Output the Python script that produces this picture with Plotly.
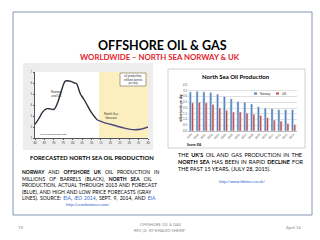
import plotly.graph_objects as go

# ---------------- data ----------------
hist_years = [1980, 1982, 1984, 1986, 1988, 1990, 1992, 1994, 1996, 1997, 1999, 2001, 2002, 2004, 2006, 2008, 2010, 2012, 2013]
hist_prod = [2.25, 2.75, 3.35, 3.65, 3.65, 3.6, 4.2, 5.3, 6.15, 6.2, 6.15, 6.0, 5.95, 5.05, 4.5, 3.9, 3.3, 2.85, 2.65]
fc_years = [2013, 2016, 2020, 2024, 2028, 2032, 2036, 2040]
fc_prod = [2.65, 2.45, 2.25, 2.05, 1.88, 1.76, 1.8, 2.0]

bar_years = [str(y) for y in range(1999, 2015)]
norway = [3.4, 3.45, 3.4, 3.35, 3.2, 3.0, 2.8, 2.55, 2.5, 2.35, 2.1, 2.0, 1.95, 1.85, 1.85, 1.85]
uk = [2.45, 2.5, 2.45, 2.3, 2.0, 1.8, 1.65, 1.65, 1.55, 1.45, 1.35, 1.15, 0.95, 0.85, 0.65, 0.55]
series_names = ["Norway", "UK"]
series_colors = ["#4f81bd", "#c0504d"]

left_xticks = list(range(1980, 2041, 5))
left_xlabels = ["%02d" % (y % 100) for y in left_xticks]

W, H = 320, 240
def px(x):
    return x / W
def py(y):
    return 1 - y / H

FONT = "Lato"
fig = go.Figure()

# left chart
fig.add_trace(go.Scatter(x=hist_years, y=hist_prod, mode="lines", line=dict(color="#2b2b3a", width=1.4),
                         xaxis="x", yaxis="y", showlegend=False, line_shape="spline"))
fig.add_trace(go.Scatter(x=fc_years, y=fc_prod, mode="lines", line=dict(color="#4a4a7a", width=1.4),
                         xaxis="x", yaxis="y", showlegend=False, line_shape="spline"))

# right chart
fig.add_trace(go.Bar(x=bar_years, y=norway, name=series_names[0], marker_color=series_colors[0],
                     xaxis="x2", yaxis="y2", showlegend=False))
fig.add_trace(go.Bar(x=bar_years, y=uk, name=series_names[1], marker_color=series_colors[1],
                     xaxis="x2", yaxis="y2", showlegend=False))

shapes = [
    # slide border
    dict(type="rect", xref="paper", yref="paper", x0=px(13), x1=px(312), y0=py(215), y1=py(12),
         line=dict(color="#8497b0", width=1), fillcolor="rgba(0,0,0,0)", layer="below"),
    # left image gray background
    dict(type="rect", xref="paper", yref="paper", x0=px(23), x1=px(153), y0=py(150), y1=py(63),
         line=dict(width=0), fillcolor="#ededed", layer="below"),
    dict(type="rect", xref="paper", yref="paper", x0=px(35), x1=px(148), y0=py(138), y1=py(72),
         line=dict(width=0), fillcolor="white", layer="below"),
    # forecast shading
    dict(type="rect", xref="x", yref="y domain", x0=2014, x1=2040, y0=0, y1=1,
         line=dict(width=0), fillcolor="#fbefc0", layer="below"),
    # right chart frame
    dict(type="rect", xref="paper", yref="paper", x0=px(168), x1=px(305), y0=py(148), y1=py(69),
         line=dict(color="#d0d0d0", width=1), fillcolor="white", layer="below"),
    # info box on left chart
    dict(type="rect", xref="paper", yref="paper", x0=px(120), x1=px(146), y0=py(86), y1=py(73),
         line=dict(color="#666", width=0.6), fillcolor="white"),
]

ann = []
def A(x, y, text, size, color="black", xanchor="center", bold=False, **kw):
    if bold:
        text = "<b>" + text + "</b>"
    ann.append(dict(xref="paper", yref="paper", x=px(x), y=py(y), text=text, showarrow=False,
                    xanchor=xanchor, yanchor="middle", font=dict(size=size, color=color, family=FONT), **kw))

def J(text, ws):
    return "<span style='word-spacing:%.2fpx'>%s</span>" % (ws, text)

# manual legend for bar chart
leg_x = [254, 276]
for nm, col, lx in zip(series_names, series_colors, leg_x):
    shapes.append(dict(type="rect", xref="paper", yref="paper", x0=px(lx), x1=px(lx + 3),
                       y0=py(94.5), y1=py(92.5), line=dict(width=0), fillcolor=col))
    A(lx + 4, 93.5, nm, 3.0, color="#333", xanchor="left")

A(162, 45, "OFFSHORE OIL & GAS", 12.5, bold=True)
A(160, 57, "WORLDWIDE – NORTH SEA NORWAY & UK", 7.8, color="#e3242b", bold=True)

# left chart inner labels
A(57, 94, "Norway<br>and UK", 3.2, color="#333")
A(133, 79.5, "oil production,<br>millions barrels<br>per day", 2.8, color="#333")
A(111, 116, "North Sea<br>forecast", 3.2, color="#333")
A(38, 134, "www.econbrowser.com", 2.6, color="#333", xanchor="left")

A(92, 157, "FORECASTED NORTH SEA OIL PRODUCTION", 5.9, bold=True)
LINK = "<span style='color:#2f5fd0'>%s</span>"
left_lines = [
    ("<b>NORWAY</b> AND <b>OFFSHORE UK</b> OIL PRODUCTION IN", 2.8),
    ("MILLIONS OF BARRELS (BLACK), <b>NORTH SEA</b> OIL", 2.8),
    ("PRODUCTION, ACTUAL THROUGH 2013 AND FORECAST", 0.6),
    ("(BLUE), AND HIGH AND LOW PRICE FORECASTS (GRAY", 0.4),
    ("LINES). SOURCE: " + LINK % "EIA" + ", <i>" + LINK % "IEO 2014" + "</i>, SEPT. 9, 2014, AND " + LINK % "EIA", 0.9),
]
for i, (t, ws) in enumerate(left_lines):
    A(20, 172.3 + i * 6.5, J(t, ws), 5.0, xanchor="left")
A(88, 204.5, "http://econbrowser.com/", 4.0, color="#2f5fd0")

A(236, 76, "North Sea Oil Production", 6.0, bold=True)
A(181, 108, "million barrels per day", 2.8, bold=True, textangle=-90)
A(185, 145, "Source: EIA", 2.8, bold=True, xanchor="left")

right_lines = [
    ("THE <b>UK'S</b> OIL AND GAS PRODUCTION IN THE", 1.1),
    ("<b>NORTH SEA</b> HAS BEEN IN RAPID <b>DECLINE</b> FOR", 0.7),
    ("THE PAST 15 YEARS, (JULY 28, 2015).", 0.0),
]
for i, (t, ws) in enumerate(right_lines):
    A(176, 154.5 + i * 7.2, J(t, ws), 5.5, xanchor="left")
A(242, 181.5, "http://www.ibtimes.co.uk/", 4.0, color="#2f5fd0")

A(20, 227, "19", 4.3, color="#8c8c8c")
A(160, 224, "OFFSHORE OIL & GAS", 4.0, color="#8c8c8c")
A(160, 230, "REV (2)  BY KHALED SHERIF", 4.0, color="#8c8c8c")
A(294, 227, "April 16", 4.3, color="#8c8c8c")

fig.update_layout(
    width=W, height=H, margin=dict(l=0, r=0, t=0, b=0, autoexpand=False),
    paper_bgcolor="white", plot_bgcolor="rgba(0,0,0,0)", showlegend=False,
    shapes=shapes, annotations=ann, barmode="group", bargap=0.35, bargroupgap=0.05,
    xaxis=dict(domain=[px(35), px(148)], range=[1980, 2040], tickvals=left_xticks, ticktext=left_xlabels,
               tickfont=dict(size=2.8, color="#444"), showgrid=False, zeroline=False,
               showline=True, linecolor="#555", linewidth=0.8, ticks="outside", ticklen=1.5, tickcolor="#555"),
    yaxis=dict(domain=[py(138), py(72)], range=[1, 7], dtick=1, tickfont=dict(size=2.8, color="#444"),
               showgrid=False, zeroline=False, showline=True, linecolor="#555", linewidth=0.8,
               ticks="outside", ticklen=1.5, tickcolor="#555"),
    xaxis2=dict(domain=[px(188), px(297)], anchor="y2", tickangle=-45, tickfont=dict(size=2.8, color="#555"),
                showgrid=False, showline=True, linecolor="#bbb", linewidth=0.6),
    yaxis2=dict(domain=[py(131), py(85)], anchor="x2", range=[0, 4], dtick=0.5, tickformat=".1f",
                tickfont=dict(size=2.8, color="#555"), gridcolor="#e0e0e0", gridwidth=0.5, zeroline=False),
    font=dict(family=FONT),
)

fig.write_html("out.html")
